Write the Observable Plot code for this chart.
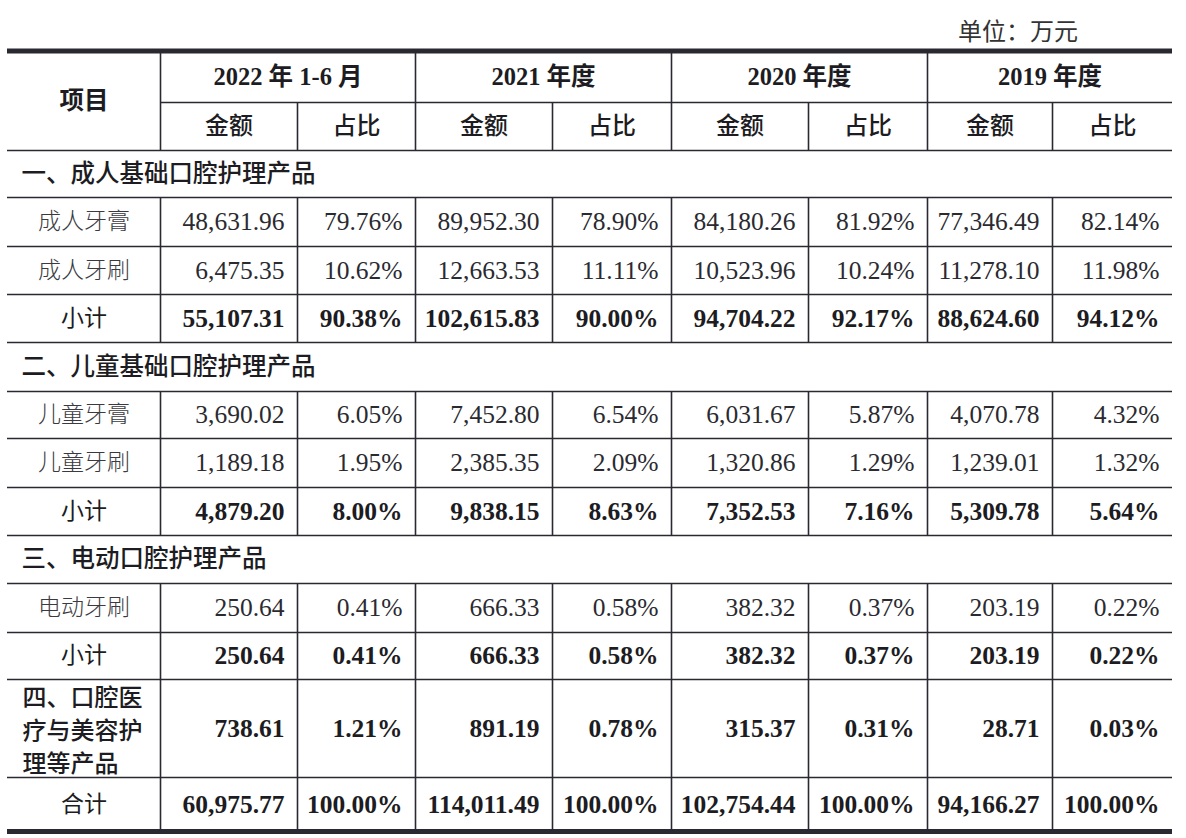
<!DOCTYPE html>
<html><head><meta charset="utf-8">
<script src="https://cdn.jsdelivr.net/npm/d3@7"></script>
<script src="https://cdn.jsdelivr.net/npm/@observablehq/plot@0.6"></script>
<style>
body{margin:0;background:#fff;}
#unit{height:48px;position:relative;font-family:"Liberation Serif","Noto Sans CJK SC",serif;font-size:24px;color:#333;}
#unit span{position:absolute;right:108px;top:16px;line-height:32px;}
#chart svg{display:block;}
</style></head><body>
<div id="unit"><span>单位：万元</span></div>
<div id="chart"></div>
<script>
// ---------- data ----------
const periods = ["2022 年 1-6 月", "2021 年度", "2020 年度", "2019 年度"];
const subHeads = ["金额", "占比"];
const cornerHead = "项目";
const sectionLabels = ["一、成人基础口腔护理产品", "二、儿童基础口腔护理产品", "三、电动口腔护理产品"];

const adultPasteAmt = [48631.96, 89952.30, 84180.26, 77346.49];
const adultPastePct = [79.76, 78.90, 81.92, 82.14];
const adultBrushAmt = [6475.35, 12663.53, 10523.96, 11278.10];
const adultBrushPct = [10.62, 11.11, 10.24, 11.98];
const adultSubAmt = [55107.31, 102615.83, 94704.22, 88624.60];
const adultSubPct = [90.38, 90.00, 92.17, 94.12];

const kidPasteAmt = [3690.02, 7452.80, 6031.67, 4070.78];
const kidPastePct = [6.05, 6.54, 5.87, 4.32];
const kidBrushAmt = [1189.18, 2385.35, 1320.86, 1239.01];
const kidBrushPct = [1.95, 2.09, 1.29, 1.32];
const kidSubAmt = [4879.20, 9838.15, 7352.53, 5309.78];
const kidSubPct = [8.00, 8.63, 7.16, 5.64];

const elecBrushAmt = [250.64, 666.33, 382.32, 203.19];
const elecBrushPct = [0.41, 0.58, 0.37, 0.22];
const elecSubAmt = [250.64, 666.33, 382.32, 203.19];
const elecSubPct = [0.41, 0.58, 0.37, 0.22];

const medLabel = "四、口腔医\n疗与美容护\n理等产品";
const medAmt = [738.61, 891.19, 315.37, 28.71];
const medPct = [1.21, 0.78, 0.31, 0.03];

const totalAmt = [60975.77, 114011.49, 102754.44, 94166.27];
const totalPct = [100.00, 100.00, 100.00, 100.00];

// ---------- layout ----------
const W = 1186, H = 790;
const colEdges = [7, 160, 297, 415, 552, 671, 808, 927, 1052, 1172];
const tableTop = 2.5;
const rowH = [51.5, 48, 47, 49, 48, 48, 49, 47, 49, 48, 48, 49, 47, 98, 54];
const rowEdges = Array.from(d3.cumsum([tableTop, ...rowH]));
const pad = 13;
const fmtAmt = d3.format(",.2f");
const fmtPct = v => d3.format(".2f")(v) + "%";

const rows = [
  {kind: "section", label: sectionLabels[0]},
  {kind: "item", label: "成人牙膏", amt: adultPasteAmt, pct: adultPastePct},
  {kind: "item", label: "成人牙刷", amt: adultBrushAmt, pct: adultBrushPct},
  {kind: "sub", label: "小计", amt: adultSubAmt, pct: adultSubPct},
  {kind: "section", label: sectionLabels[1]},
  {kind: "item", label: "儿童牙膏", amt: kidPasteAmt, pct: kidPastePct},
  {kind: "item", label: "儿童牙刷", amt: kidBrushAmt, pct: kidBrushPct},
  {kind: "sub", label: "小计", amt: kidSubAmt, pct: kidSubPct},
  {kind: "section", label: sectionLabels[2]},
  {kind: "item", label: "电动牙刷", amt: elecBrushAmt, pct: elecBrushPct},
  {kind: "sub", label: "小计", amt: elecSubAmt, pct: elecSubPct},
  {kind: "multi", label: medLabel, amt: medAmt, pct: medPct},
  {kind: "sub", label: "合计", amt: totalAmt, pct: totalPct}
];

// rules
const hRules = [];
const vRules = [];
hRules.push({y: rowEdges[0], x1: colEdges[0], x2: colEdges[9], w: 4.8});
hRules.push({y: rowEdges[1], x1: colEdges[1], x2: colEdges[9], w: 1.6});
for (let i = 2; i < rowEdges.length - 1; i++) hRules.push({y: rowEdges[i], x1: colEdges[0], x2: colEdges[9], w: 1.6});
hRules.push({y: rowEdges[rowEdges.length - 1], x1: colEdges[0], x2: colEdges[9], w: 4.8});

[1, 3, 5, 7].forEach(c => vRules.push({x: colEdges[c], y1: rowEdges[0], y2: rowEdges[2]}));
[2, 4, 6, 8].forEach(c => vRules.push({x: colEdges[c], y1: rowEdges[1], y2: rowEdges[2]}));
rows.forEach((r, i) => {
  if (r.kind === "section") return;
  for (let c = 1; c <= 8; c++) vRules.push({x: colEdges[c], y1: rowEdges[i + 2], y2: rowEdges[i + 3]});
});

// texts
const mid = (a, b) => (a + b) / 2;
const headBold = [{x: mid(colEdges[0], colEdges[1]), y: mid(rowEdges[0], rowEdges[2]), t: cornerHead}];
periods.forEach((p, k) => headBold.push({x: mid(colEdges[1 + 2 * k], colEdges[3 + 2 * k]), y: mid(rowEdges[0], rowEdges[1]), t: p}));
const subHeadText = [];
periods.forEach((p, k) => subHeads.forEach((s, j) => subHeadText.push({x: mid(colEdges[1 + 2 * k + j], colEdges[2 + 2 * k + j]), y: mid(rowEdges[1], rowEdges[2]), t: s})));
const labelText = [];
const sectionText = [];
const multiText = [];
const numNormal = [];
const numBold = [];
rows.forEach((r, i) => {
  const y = mid(rowEdges[i + 2], rowEdges[i + 3]);
  if (r.kind === "section") { sectionText.push({x: colEdges[0] + 14, y, t: r.label}); return; }
  if (r.kind === "multi") multiText.push({x: colEdges[0] + 15, y, t: r.label});
  else labelText.push({x: mid(colEdges[0], colEdges[1]), y, t: r.label, item: r.kind === "item"});
  const target = r.kind === "item" ? numNormal : numBold;
  periods.forEach((p, k) => {
    target.push({x: colEdges[2 + 2 * k] - pad, y, t: fmtAmt(r.amt[k])});
    target.push({x: colEdges[3 + 2 * k] - pad, y, t: fmtPct(r.pct[k])});
  });
});

const serif = "'Liberation Serif', 'Noto Sans CJK SC', serif";
const cjk = "'Noto Sans CJK SC', sans-serif";
const ink = "#1c1c22";

const chart = Plot.plot({
  width: W, height: H, margin: 0,
  style: {background: "#fff"},
  x: {type: "linear", domain: [0, W], range: [0, W], axis: null},
  y: {type: "linear", domain: [0, H], range: [0, H], axis: null},
  marks: [
    Plot.ruleY(hRules, {y: "y", x1: "x1", x2: "x2", strokeWidth: "w", stroke: "#2a2830"}),
    Plot.ruleX(vRules, {x: "x", y1: "y1", y2: "y2", strokeWidth: 1.6, stroke: "#2a2830"}),
    Plot.text(headBold, {x: "x", y: "y", text: "t", fontFamily: serif, fontSize: 24.5, fontWeight: "bold", fill: ink}),
    Plot.text(subHeadText, {x: "x", y: "y", text: "t", fontFamily: cjk, fontSize: 24, fontWeight: 500, fill: ink}),
    Plot.text(labelText.filter(d => !d.item), {x: "x", y: "y", text: "t", fontFamily: cjk, fontSize: 23, fill: ink}),
    Plot.text(labelText.filter(d => d.item), {x: "x", y: "y", text: "t", fontFamily: cjk, fontSize: 23, fontWeight: 300, fill: "#3a3a40"}),
    Plot.text(sectionText, {x: "x", y: "y", text: "t", fontFamily: cjk, fontSize: 24.5, fontWeight: 500, fill: ink, textAnchor: "start"}),
    Plot.text(multiText, {x: "x", y: "y", text: "t", fontFamily: cjk, fontSize: 24, fontWeight: 500, lineHeight: 1.38, fill: ink, textAnchor: "start"}),
    Plot.text(numNormal, {x: "x", y: "y", text: "t", fontFamily: serif, fontSize: 25.5, fill: "#2a2a30", textAnchor: "end"}),
    Plot.text(numBold, {x: "x", y: "y", text: "t", fontFamily: serif, fontSize: 25.5, fontWeight: "bold", fill: ink, textAnchor: "end"})
  ]
});
document.getElementById("chart").appendChild(chart);
</script>
</body></html>
